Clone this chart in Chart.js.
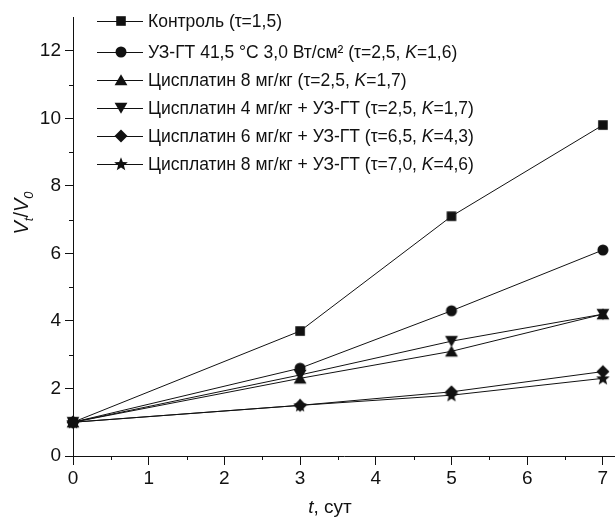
<!DOCTYPE html>
<html>
<head>
<meta charset="utf-8">
<script src="https://cdn.jsdelivr.net/npm/chart.js@4/dist/chart.umd.min.js"></script>
<style>
html,body{margin:0;padding:0;background:#fff;}
#wrap{width:615px;height:519px;position:relative;}
</style>
</head>
<body>
<div id="wrap"><canvas id="c" width="615" height="519"></canvas></div>
<script>
// ---- data ----
const days = [0, 3, 5, 7];
const control = [1, 3.7, 7.1, 9.8];
const usHt = [1, 2.6, 4.3, 6.1];
const cis8 = [1, 2.3, 3.1, 4.2];
const cis4Us = [1, 2.4, 3.4, 4.2];
const cis6Us = [1, 1.5, 1.9, 2.5];
const cis8Us = [1, 1.5, 1.8, 2.3];
const labels = [
  'Контроль (τ=1,5)',
  'УЗ-ГТ 41,5 °С 3,0 Вт/см² (τ=2,5, K=1,6)',
  'Цисплатин 8 мг/кг (τ=2,5, K=1,7)',
  'Цисплатин 4 мг/кг + УЗ-ГТ (τ=2,5, K=1,7)',
  'Цисплатин 6 мг/кг + УЗ-ГТ (τ=6,5, K=4,3)',
  'Цисплатин 8 мг/кг + УЗ-ГТ (τ=7,0, K=4,6)'
];
const xMajorTicks = [0, 1, 2, 3, 4, 5, 6, 7];
const xMinorTicks = [0.5, 1.5, 2.5, 3.5, 4.5, 5.5, 6.5];
const yMajorTicks = [0, 2, 4, 6, 8, 10, 12];
const yMinorTicks = [1, 3, 5, 7, 9, 11];

const FONT = '"Liberation Sans", Arial, Helvetica, sans-serif';

// ---- marker images ----
function makeMarker(kind) {
  const s = 16, c = document.createElement('canvas');
  c.width = s; c.height = s;
  const g = c.getContext('2d');
  g.fillStyle = '#111';
  const m = s / 2;
  g.beginPath();
  if (kind === 'square') {
    g.rect(m - 4.8, m - 4.8, 9.6, 9.6);
  } else if (kind === 'circle') {
    g.arc(m, m, 5.5, 0, Math.PI * 2);
  } else if (kind === 'up') {
    g.moveTo(m, m - 5.8); g.lineTo(m + 6.4, m + 5.2); g.lineTo(m - 6.4, m + 5.2); g.closePath();
  } else if (kind === 'down') {
    g.moveTo(m, m + 5.8); g.lineTo(m + 6.4, m - 5.2); g.lineTo(m - 6.4, m - 5.2); g.closePath();
  } else if (kind === 'diamond') {
    g.moveTo(m, m - 6.5); g.lineTo(m + 6.5, m); g.lineTo(m, m + 6.5); g.lineTo(m - 6.5, m); g.closePath();
  } else if (kind === 'star') {
    for (let i = 0; i < 10; i++) {
      const r = i % 2 === 0 ? 7.2 : 3.1;
      const a = -Math.PI / 2 + i * Math.PI / 5;
      const px = m + r * Math.cos(a), py = m + 0.5 + r * Math.sin(a);
      if (i === 0) g.moveTo(px, py); else g.lineTo(px, py);
    }
    g.closePath();
  }
  g.fill();
  return c;
}
const markers = ['square', 'circle', 'up', 'down', 'diamond', 'star'].map(makeMarker);

const seriesValues = [control, usHt, cis8, cis4Us, cis6Us, cis8Us];
const datasets = seriesValues.map((vals, i) => ({
  label: labels[i],
  data: days.map((d, j) => ({ x: d, y: vals[j] })),
  borderColor: '#111',
  borderWidth: 1,
  pointStyle: markers[i],
  pointRadius: 7,
  pointHoverRadius: 7,
  backgroundColor: '#111',
  clip: false,
  tension: 0
}));

// ---- custom drawing plugin ----
function drawItalicK(ctx, text, x, y, size) {
  const parts = text.split(/(K)(?==)/);
  let cx = x;
  parts.forEach(p => {
    if (!p) return;
    ctx.font = (p === 'K' ? 'italic ' : '') + size + 'px ' + FONT;
    ctx.fillText(p, cx, y);
    cx += ctx.measureText(p).width;
  });
}

const deco = {
  id: 'deco',
  afterLayout(chart) {
    // extend the x axis to the right edge of the canvas, as in the reference
    const xs = chart.scales.x;
    xs.right = chart.width;
    xs.width = xs.right - xs.left;
    xs.configure();
    chart.chartArea.right = chart.width;
    chart.chartArea.width = chart.chartArea.right - chart.chartArea.left;
  },
  afterDraw(chart) {
    const ctx = chart.ctx;
    const xs = chart.scales.x, ys = chart.scales.y;
    const ca = chart.chartArea;
    ctx.save();
    ctx.strokeStyle = '#111';
    ctx.lineWidth = 1;
    // minor ticks
    ctx.beginPath();
    xMinorTicks.forEach(v => {
      const px = Math.round(xs.getPixelForValue(v)) + 0.5;
      ctx.moveTo(px, ca.bottom); ctx.lineTo(px, ca.bottom + 4);
    });
    yMinorTicks.forEach(v => {
      const py = Math.round(ys.getPixelForValue(v)) + 0.5;
      ctx.moveTo(ca.left, py); ctx.lineTo(ca.left - 4, py);
    });
    ctx.stroke();

    // legend
    ctx.fillStyle = '#111';
    ctx.textBaseline = 'middle';
    const rows = [21, 52, 80, 108, 136, 164];
    labels.forEach((lab, i) => {
      const y = rows[i];
      ctx.beginPath();
      ctx.moveTo(97, y + 0.5); ctx.lineTo(143, y + 0.5);
      ctx.stroke();
      const mk = markers[i];
      ctx.drawImage(mk, 121 - mk.width / 2, y - mk.height / 2);
      drawItalicK(ctx, lab, 148, y + 1, 17.5);
    });

    // x title
    ctx.textBaseline = 'alphabetic';
    ctx.font = 'italic 19px ' + FONT;
    const tW = ctx.measureText('t').width;
    ctx.font = '19px ' + FONT;
    const restW = ctx.measureText(', сут').width;
    let sx = 330 - (tW + restW) / 2;
    ctx.font = 'italic 19px ' + FONT;
    ctx.fillText('t', sx, 513);
    ctx.font = '19px ' + FONT;
    ctx.fillText(', сут', sx + tW, 513);

    // y title: V_t / V_0 rotated
    ctx.translate(28, 213);
    ctx.rotate(-Math.PI / 2);
    const segs = [
      { t: 'V', f: 'italic 20px ', dy: 0 },
      { t: 't', f: 'italic 13px ', dy: 5 },
      { t: '/', f: '20px ', dy: 0 },
      { t: 'V', f: 'italic 20px ', dy: 0 },
      { t: '0', f: 'italic 13px ', dy: 5 }
    ];
    let total = 0;
    segs.forEach(s => { ctx.font = s.f + FONT; s.w = ctx.measureText(s.t).width; total += s.w; });
    let cx = -total / 2;
    segs.forEach(s => { ctx.font = s.f + FONT; ctx.fillText(s.t, cx, s.dy); cx += s.w; });
    ctx.restore();
  }
};

new Chart(document.getElementById('c'), {
  type: 'line',
  data: { datasets },
  options: {
    responsive: false,
    animation: false,
    events: [],
    layout: { padding: { top: 17, right: 0, left: 0, bottom: 0 } },
    plugins: { legend: { display: false }, tooltip: { enabled: false } },
    scales: {
      x: {
        type: 'linear',
        min: 0,
        max: 7.16,
        afterBuildTicks: s => { s.ticks = xMajorTicks.map(v => ({ value: v })); },
        afterFit: s => { s.height = 63; s.paddingLeft = 0; s.paddingRight = 0; },
        grid: { drawOnChartArea: false, tickLength: 9, color: '#111', lineWidth: 1 },
        border: { display: true, color: '#111', width: 1 },
        ticks: { color: '#111', font: { family: FONT, size: 19 }, padding: 2, maxRotation: 0 }
      },
      y: {
        type: 'linear',
        min: 0,
        max: 13,
        afterBuildTicks: s => { s.ticks = yMajorTicks.map(v => ({ value: v })); },
        afterFit: s => { s.width = 73; s.paddingTop = 0; s.paddingBottom = 0; },
        grid: { drawOnChartArea: false, tickLength: 8, color: '#111', lineWidth: 1 },
        border: { display: true, color: '#111', width: 1 },
        ticks: { color: '#111', font: { family: FONT, size: 19 }, padding: 4 }
      }
    }
  },
  plugins: [deco]
});
</script>
</body>
</html>
